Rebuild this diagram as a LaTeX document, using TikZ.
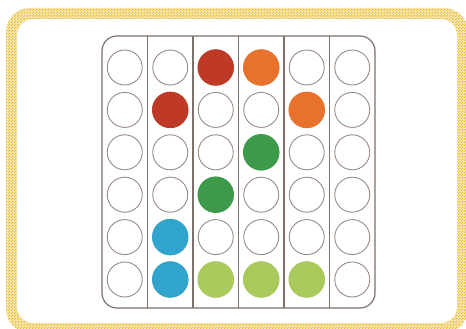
\documentclass[tikz,border=0pt]{standalone}
\usetikzlibrary{patterns.meta}

\definecolor{frameyellow}{HTML}{E8BC38}
\definecolor{framelight}{HTML}{F8EAB8}
\definecolor{boardline}{HTML}{7E706A}
\definecolor{holeline}{HTML}{998A84}
\definecolor{pegred}{HTML}{BE3A27}
\definecolor{pegorange}{HTML}{E8722C}
\definecolor{peggreen}{HTML}{3D9A4A}
\definecolor{pegblue}{HTML}{31A4CE}
\definecolor{peglime}{HTML}{AACB5C}

\tikzdeclarepattern{
  name=finechecker, type=uncolored,
  bounding box={(0,0) and (2.6pt,2.6pt)},
  tile size={(2.6pt,2.6pt)},
  code={
    \fill (0pt,0pt) rectangle (1.3pt,1.3pt);
    \fill (1.3pt,1.3pt) rectangle (2.6pt,2.6pt);
  }
}

\begin{document}
\begin{tikzpicture}[x=1pt, y=-1pt,
  hole/.style={circle, draw=holeline, line width=0.9pt, minimum size=35pt, inner sep=0pt},
  peg/.style={circle, minimum size=36.5pt, inner sep=0pt}]
  \useasboundingbox (0,0) rectangle (466,329);

  % Checkered frame round the card
  \fill[framelight, even odd rule]
    [rounded corners=24pt] (6,8) rectangle (468,333)
    [rounded corners=16pt] (17,19) rectangle (457,323);
  \fill[pattern=finechecker, pattern color=frameyellow, even odd rule]
    [rounded corners=24pt] (6,8) rectangle (468,333)
    [rounded corners=16pt] (17,19) rectangle (457,323);

  % Board outline
  \draw[boardline, line width=1.2pt, rounded corners=15pt] (102,36) rectangle (375,308);

  % Column separators
  \foreach \x in {147.5, 193, 238.5, 284, 329.5}
    \draw[boardline, line width=1.2pt] (\x,36) -- (\x,308);

  % Empty holes, 6 columns x 6 rows
  \foreach \c in {1,...,6}
    \foreach \r in {1,...,6}
      \node[hole] (h\c\r) at ({124.75+45.5*(\c-1)}, {67.5+42.4*(\r-1)}) {};

  % Row 1
  \node[peg, fill=pegred] (p31) at (h31) {};
  \node[peg, fill=pegorange] (p41) at (h41) {};
  % Row 2
  \node[peg, fill=pegred] (p22) at (h22) {};
  \node[peg, fill=pegorange] (p52) at (h52) {};
  % Rows 3 and 4
  \node[peg, fill=peggreen] (p43) at (h43) {};
  \node[peg, fill=peggreen] (p34) at (h34) {};
  % Rows 5 and 6
  \node[peg, fill=pegblue] (p25) at (h25) {};
  \node[peg, fill=pegblue] (p26) at (h26) {};
  \node[peg, fill=peglime] (p36) at (h36) {};
  \node[peg, fill=peglime] (p46) at (h46) {};
  \node[peg, fill=peglime] (p56) at (h56) {};
\end{tikzpicture}
\end{document}
